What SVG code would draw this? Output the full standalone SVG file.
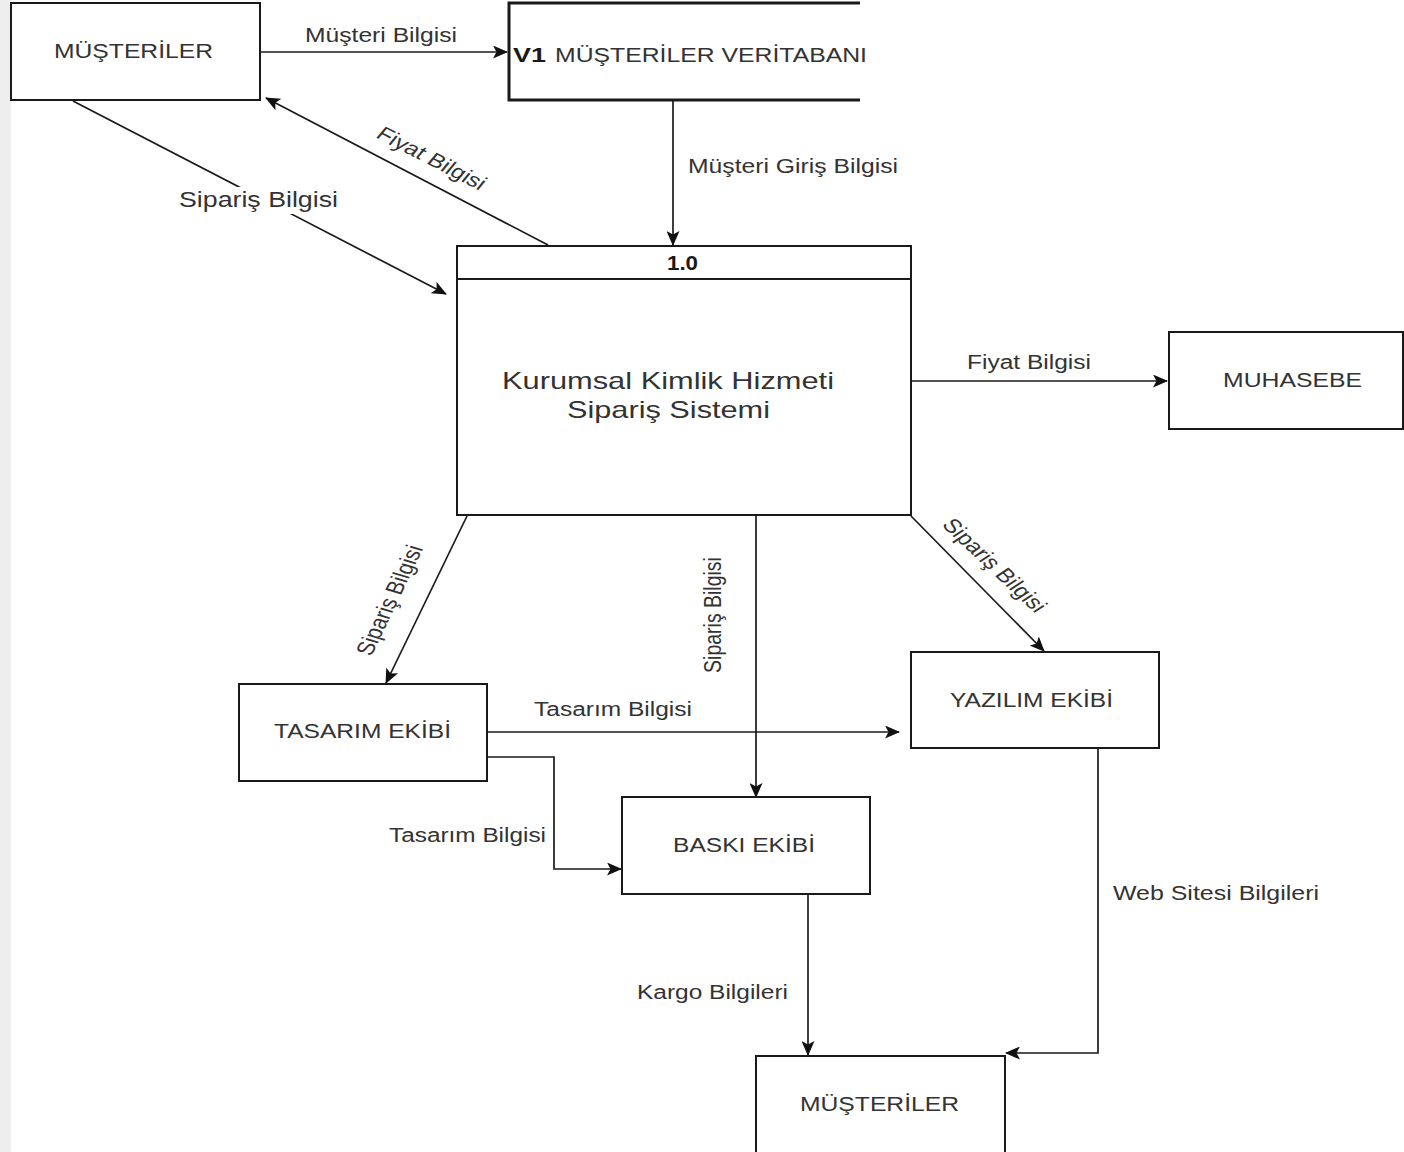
<svg xmlns="http://www.w3.org/2000/svg" width="1404" height="1152" viewBox="0 0 1404 1152">
<defs>
<marker id="arr" markerUnits="userSpaceOnUse" markerWidth="15" markerHeight="13" viewBox="0 0 15 13" refX="14" refY="6.5" orient="auto">
<path d="M0,0 L15,6.5 L0,13 L3.5,6.5 Z" fill="#111"/>
</marker>
<style>
.box{fill:#fff;stroke:#1a1a1a;stroke-width:2}
.store{fill:none;stroke:#1a1a1a;stroke-width:3}
.edge{fill:none;stroke:#1a1a1a;stroke-width:1.7;marker-end:url(#arr)}
.t{font-family:"Liberation Sans",Arial,sans-serif;font-size:19.5px;fill:#333}
.b{font-weight:bold;fill:#1a1a1a}
.r{text-anchor:middle}
</style>
</defs>
<rect x="0" y="0" width="1404" height="1152" fill="#fff"/>
<rect x="0" y="0" width="11" height="1152" fill="#eeeeee"/>

<g id="connectors">
<path class="edge" d="M260,52 H507"/>
<path class="edge" d="M673,100 V245"/>
<path class="edge" d="M73,101 L446,294"/>
<path class="edge" d="M548,245 L266,98"/>
<path class="edge" d="M911,381 H1167"/>
<path class="edge" d="M911,516 L1044,651"/>
<path class="edge" d="M467,516 L386,683"/>
<path class="edge" d="M756,516 V797"/>
<path class="edge" d="M487,732 H899"/>
<path class="edge" d="M487,757 H554 V869 H621"/>
<path class="edge" d="M808,894 V1055"/>
<path class="edge" d="M1098,748 V1053 H1006"/>
</g>

<g id="labels">
<text class="t" x="305" y="41.5" textLength="152" lengthAdjust="spacingAndGlyphs">Müşteri Bilgisi</text>
<text class="t" x="688" y="173" textLength="210" lengthAdjust="spacingAndGlyphs">Müşteri Giriş Bilgisi</text>
<rect x="176" y="187" width="166" height="27" fill="#fff"/>
<text class="t" x="179" y="207" style="font-size:21.5px" textLength="159" lengthAdjust="spacingAndGlyphs">Sipariş Bilgisi</text>
<text class="t r" transform="translate(432,158) scale(1.27,1) rotate(33)" x="0" y="7">Fiyat Bilgisi</text>
<text class="t" x="967" y="369" textLength="124" lengthAdjust="spacingAndGlyphs">Fiyat Bilgisi</text>
<text class="t r" transform="translate(995,565) scale(1.27,1) rotate(50)" x="0" y="7">Sipariş Bilgisi</text>
<text class="t r" transform="translate(389,600) scale(1.27,1) rotate(-69.3)" x="0" y="7">Sipariş Bilgisi</text>
<text class="t r" transform="translate(712,615) scale(1.27,1) rotate(-90)" x="0" y="7">Sipariş Bilgisi</text>
<text class="t" x="534" y="716" textLength="158" lengthAdjust="spacingAndGlyphs">Tasarım Bilgisi</text>
<text class="t" x="389" y="841.5" textLength="157" lengthAdjust="spacingAndGlyphs">Tasarım Bilgisi</text>
<text class="t" x="637" y="999" textLength="151" lengthAdjust="spacingAndGlyphs">Kargo Bilgileri</text>
<text class="t" x="1113" y="900" textLength="206" lengthAdjust="spacingAndGlyphs">Web Sitesi Bilgileri</text>
</g>

<g id="node-musteriler-top">
<rect class="box" x="11" y="3" width="249" height="97"/>
<text class="t" x="54" y="57.5" textLength="159" lengthAdjust="spacingAndGlyphs">MÜŞTERİLER</text>
</g>

<g id="node-v1">
<path class="store" d="M860,3 H509 V100 H860"/>
<text class="t b" x="513" y="61.5" textLength="33" lengthAdjust="spacingAndGlyphs">V1</text>
<text class="t" x="555" y="61.5" textLength="312" lengthAdjust="spacingAndGlyphs">MÜŞTERİLER VERİTABANI</text>
</g>

<g id="node-process">
<rect class="box" x="457" y="246" width="454" height="269"/>
<line x1="457" y1="279" x2="911" y2="279" stroke="#1a1a1a" stroke-width="2"/>
<text class="t b" x="667" y="270" textLength="31" lengthAdjust="spacingAndGlyphs">1.0</text>
<text class="t" x="502" y="389" style="font-size:24px" textLength="332" lengthAdjust="spacingAndGlyphs">Kurumsal Kimlik Hizmeti</text>
<text class="t" x="567" y="418" style="font-size:24px" textLength="203" lengthAdjust="spacingAndGlyphs">Sipariş Sistemi</text>
</g>

<g id="node-muhasebe">
<rect class="box" x="1169" y="332" width="234" height="97"/>
<text class="t" x="1223" y="387" textLength="139" lengthAdjust="spacingAndGlyphs">MUHASEBE</text>
</g>

<g id="node-yazilim">
<rect class="box" x="911" y="652" width="248" height="96"/>
<text class="t" x="950" y="707" textLength="163" lengthAdjust="spacingAndGlyphs">YAZILIM EKİBİ</text>
</g>

<g id="node-tasarim">
<rect class="box" x="239" y="684" width="248" height="97"/>
<text class="t" x="274" y="738" textLength="177" lengthAdjust="spacingAndGlyphs">TASARIM EKİBİ</text>
</g>

<g id="node-baski">
<rect class="box" x="622" y="797" width="248" height="97"/>
<text class="t" x="673" y="851.5" textLength="142" lengthAdjust="spacingAndGlyphs">BASKI EKİBİ</text>
</g>

<g id="node-musteriler-bottom">
<rect class="box" x="756" y="1056" width="249" height="110"/>
<text class="t" x="800" y="1110.5" textLength="159" lengthAdjust="spacingAndGlyphs">MÜŞTERİLER</text>
</g>
</svg>
